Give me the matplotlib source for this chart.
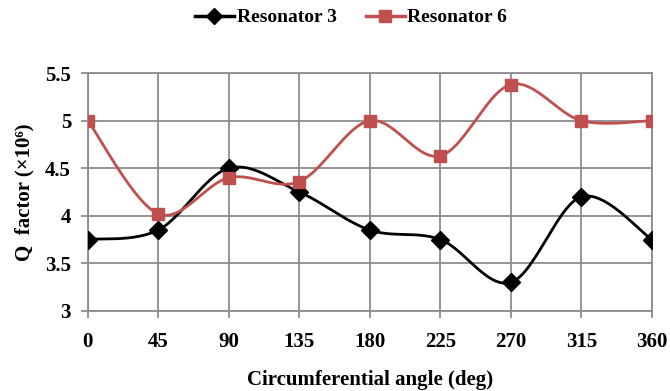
import numpy as np
import matplotlib
matplotlib.use("Agg")
import matplotlib.pyplot as plt

plt.rcParams['font.family'] = ['Liberation Serif', 'DejaVu Serif']
plt.rcParams['font.weight'] = 'bold'

angles = [0, 45, 90, 135, 180, 225, 270, 315, 360]
resonator3 = [3.75, 3.85, 4.5, 4.25, 3.85, 3.75, 3.3, 4.2, 3.75]
resonator6 = [5.0, 4.02, 4.4, 4.36, 5.0, 4.63, 5.38, 5.0, 5.0]


def smooth(x, y, n=30):
    # bezier curve through the points, control points like a Catmull-Rom spline
    x = np.asarray(x, float)
    y = np.asarray(y, float)
    px = np.concatenate([[x[0]], x, [x[-1]]])
    py = np.concatenate([[y[0]], y, [y[-1]]])
    xs, ys = [], []
    t = np.linspace(0, 1, n)
    for i in range(1, len(px) - 2):
        p0 = np.array([px[i], py[i]])
        p3 = np.array([px[i + 1], py[i + 1]])
        c1 = p0 + (np.array([px[i + 1], py[i + 1]]) - np.array([px[i - 1], py[i - 1]])) / 6
        c2 = p3 - (np.array([px[i + 2], py[i + 2]]) - np.array([px[i], py[i]])) / 6
        b = ((1 - t) ** 3)[:, None] * p0 + (3 * (1 - t) ** 2 * t)[:, None] * c1 \
            + (3 * (1 - t) * t ** 2)[:, None] * c2 + (t ** 3)[:, None] * p3
        xs.extend(b[:, 0])
        ys.extend(b[:, 1])
    return xs, ys


fig = plt.figure(figsize=(6.7, 3.91), dpi=100)
ax = fig.add_axes([0.131, 0.205, 0.842, 0.608])

red = '#C0504D'
sx, sy = smooth(angles, resonator3)
ax.plot(sx, sy, color='black', lw=2, zorder=3)
ax.plot(angles, resonator3, ls='none', marker='D', ms=9, color='black', zorder=4)
sx, sy = smooth(angles, resonator6)
ax.plot(sx, sy, color=red, lw=2, zorder=3)
ax.plot(angles, resonator6, ls='none', marker='s', ms=9, color=red, zorder=4)

# legend handles: line with marker
h3, = ax.plot([], [], color='black', lw=2.5, marker='D', ms=8)
h6, = ax.plot([], [], color=red, lw=2.5, marker='s', ms=8)
fig.legend([h3, h6], ['Resonator 3', 'Resonator 6'], loc='center',
           bbox_to_anchor=(0.524, 0.955), ncol=2, frameon=False,
           fontsize=14, handlelength=2.0, handletextpad=0.15, columnspacing=1.5)

ax.set_xlim(0, 360)
ax.set_ylim(3, 5.5)
ax.set_xticks(angles)
ax.set_yticks([3, 3.5, 4, 4.5, 5, 5.5])
ax.set_yticklabels(['3', '3.5', '4', '4.5', '5', '5.5'])
ax.grid(True, color='#8c8c8c', lw=1.3)
for s in ax.spines.values():
    s.set_color('#8c8c8c')
    s.set_linewidth(1.3)
ax.tick_params(colors='#8c8c8c', labelcolor='black', labelsize=15, length=5, width=1.3)
ax.tick_params(axis='x', pad=10)
ax.tick_params(axis='y', pad=7)

ax.set_xlabel('Circumferential angle (deg)', fontsize=15, fontweight='bold', labelpad=13)
ax.set_ylabel('Q  factor (\u00d710\u2076)', fontsize=15, fontweight='bold', labelpad=8)

fig.savefig('out.png', dpi=100)
